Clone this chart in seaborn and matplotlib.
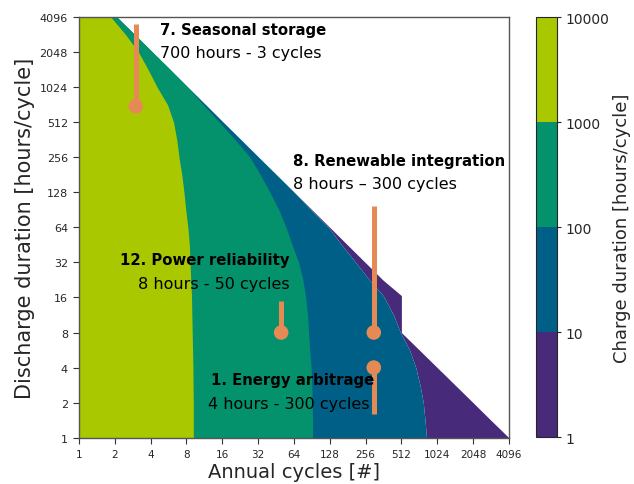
import numpy as np
import pandas as pd
import matplotlib
matplotlib.use("Agg")
import matplotlib.pyplot as plt
import seaborn as sns
from matplotlib.colors import ListedColormap, BoundaryNorm
from matplotlib.cm import ScalarMappable

# Discharge duration levels (hours/cycle) at which the region boundaries are given
discharge_hours = [4096, 2896, 2048, 1448, 1024, 724, 512, 362, 256, 181, 128, 90.5,
                   64, 45.3, 32, 22.6, 16.6, 11.3, 8, 5.66, 4, 2.83, 2, 1.41, 1]

# Annual cycles where charge duration drops below 1000 / 100 / 10 h, and the feasible limit
cycles_1000 = [1.85, 2.46, 3.16, 3.81, 4.53, 5.54, 6.23, 6.63, 6.92, 7.31, 7.62, 7.89,
               8.22, 8.46, 8.57, 8.69, 8.82, 8.88, 8.94, 9.00, 9.06, 9.09, 9.13, 9.13, 9.13]
cycles_100 = [2.08, 2.94, 4.14, 5.84, 8.17, 11.1, 15.1, 20.5, 27.3, 33.4, 40.2, 47.8,
              54.9, 61.8, 70.0, 76.1, 79.9, 83.3, 85.0, 86.8, 89.3, 90.5, 91.1, 91.8, 91.8]
cycles_10 = [2.08, 2.94, 4.14, 5.84, 8.22, 11.6, 16.3, 23.0, 32.4, 45.7, 64.4, 89.0,
             125, 161, 211, 276, 360, 440, 502, 600, 676, 734, 782, 809, 832]
cycles_limit = [2.08, 2.94, 4.14, 5.84, 8.22, 11.6, 16.3, 23.0, 32.4, 45.7, 64.4, 90.8,
                128, 180, 254, 358, 512, 512, 512, 724, 1024, 1448, 2048, 2896, 4096]

# Charge-duration classes (hours/cycle)
charge_bounds = [1, 10, 100, 1000, 10000]
charge_labels = ["1", "10", "100", "1000", "10000"]
band_colors = ["#472a79", "#005f86", "#04926c", "#aac800"]  # 1-10, 10-100, 100-1000, 1000-10000

# Applications: cycles, hours, end of the stem line
app_cycles = [3, 50, 300, 300]
app_hours = [700, 8, 8, 4]
app_stem_end = [3600, 15, 97, 1.6]

axis_ticks = [2 ** k for k in range(13)]
orange = "#e58a55"

sns.set_style("ticks")
plt.rcParams["font.family"] = ["DejaVu Sans"]

fig = plt.figure(figsize=(6.34, 4.85), dpi=100)
ax = fig.add_axes([0.1246, 0.0955, 0.678, 0.8674])
cax = fig.add_axes([0.8454, 0.0965, 0.0331, 0.8655])

# Purple only right of the 10 h boundary; the other classes stacked from x = 1,
# inner (longer charge) classes drawn on top
ones = [1] * len(discharge_hours)
ax.fill_betweenx(discharge_hours, cycles_10, cycles_limit, facecolor=band_colors[0],
                 linewidth=0, zorder=1)
for right, col in [(cycles_10, band_colors[1]), (cycles_100, band_colors[2]),
                   (cycles_1000, band_colors[3])]:
    ax.fill_betweenx(discharge_hours, ones, right, facecolor=col, linewidth=0, zorder=1)

ax.set_xscale("log", base=2)
ax.set_yscale("log", base=2)
ax.set_xlim(1, 4096)
ax.set_ylim(1, 4096)

# Application markers
ax.vlines(app_cycles, app_hours, app_stem_end, color=orange, linewidth=3.6, zorder=4)
apps = pd.DataFrame({"cycles": app_cycles, "hours": app_hours})
sns.scatterplot(data=apps, x="cycles", y="hours", ax=ax, color=orange, s=110,
                edgecolor="none", zorder=5, legend=False)

ax.set_xticks(axis_ticks)
ax.set_xticklabels([str(t) for t in axis_ticks])
ax.set_yticks(axis_ticks)
ax.set_yticklabels([str(t) for t in axis_ticks])
ax.minorticks_off()
ax.tick_params(length=4, width=0.8, color="#333333", pad=4)
ax.tick_params(axis="x", labelsize=7.5)
ax.tick_params(axis="y", labelsize=8)
for sp in ax.spines.values():
    sp.set_color("#555555")
    sp.set_linewidth(1.0)

ax.set_xlabel("Annual cycles [#]", fontsize=14, labelpad=2)
ax.set_ylabel("Discharge duration [hours/cycle]", fontsize=15, labelpad=3)

# Annotations
bold = dict(fontsize=10.7, fontweight="bold", color="black", zorder=6)
norm_txt = dict(fontsize=11.5, color="black", zorder=6)
ax.text(4.79, 3190, "7. Seasonal storage", ha="left", va="center", **bold)
ax.text(4.79, 2048, "700 hours - 3 cycles", ha="left", va="center", **norm_txt)
ax.text(62.7, 239, "8. Renewable integration", ha="left", va="center", **bold)
ax.text(62.7, 151, "8 hours \u2013 300 cycles", ha="left", va="center", **norm_txt)
ax.text(59.3, 33.8, "12. Power reliability", ha="right", va="center", **bold)
ax.text(59.3, 20.9, "8 hours - 50 cycles", ha="right", va="center", **norm_txt)
ax.text(12.8, 3.19, "1. Energy arbitrage", ha="left", va="center", **bold)
ax.text(12.1, 1.95, "4 hours - 300 cycles", ha="left", va="center", **norm_txt)

# Colorbar of charge duration classes
cmap = ListedColormap(band_colors)
norm = BoundaryNorm(charge_bounds, cmap.N)
cb = fig.colorbar(ScalarMappable(norm=norm, cmap=cmap), cax=cax, ticks=charge_bounds)
cb.set_ticklabels(charge_labels)
cb.ax.tick_params(labelsize=10, length=3, pad=3)
cb.outline.set_linewidth(0.8)
cb.set_label("Charge duration [hours/cycle]", fontsize=13, labelpad=3)

fig.savefig("out.png", dpi=100)
